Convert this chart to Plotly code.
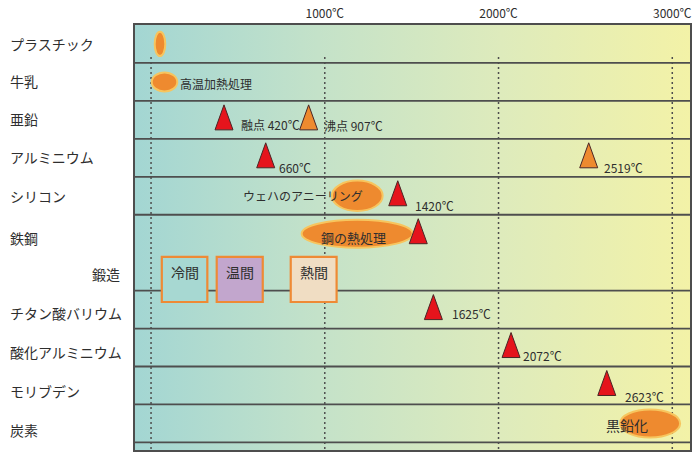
import plotly.graph_objects as go

# ---------------- data ----------------
categories = ["プラスチック", "牛乳", "亜鉛", "アルミニウム", "シリコン", "鉄鋼", "鍛造",
              "チタン酸バリウム", "酸化アルミニウム", "モリブデン", "炭素"]

# melting (融点) / boiling (沸点) points
pt_material = ["亜鉛", "亜鉛", "アルミニウム", "アルミニウム", "シリコン", "鉄鋼",
               "チタン酸バリウム", "酸化アルミニウム", "モリブデン"]
pt_temp = [420, 907, 660, 2519, 1420, 1538, 1625, 2072, 2623]
pt_kind = ["融点", "沸点", "融点", "沸点", "融点", "融点", "融点", "融点", "融点"]
pt_label = ["融点 420℃", "沸点 907℃", "660℃", "2519℃", "1420℃", "", "1625℃", "2072℃", "2623℃"]

# process temperature ranges (ellipses)
proc_material = ["プラスチック", "牛乳", "シリコン", "鉄鋼", "炭素"]
proc_name = ["", "高温加熱処理", "ウェハのアニーリング", "鋼の熱処理", "黒鉛化"]
proc_lo = [21, 4, 1041, 867, 2699]
proc_hi = [82, 151, 1333, 1506, 3045]

# forging ranges (boxes)
forge_name = ["冷間", "温間", "熱間"]
forge_lo = [62, 378, 804]
forge_hi = [324, 643, 1068]

tick_vals = [1000, 2000, 3000]
tick_text = ["1000℃", "2000℃", "3000℃"]
guide_vals = [0, 1000, 2000, 3000]

# ---------------- layout / style ----------------
W, H = 700, 457
ML, MR, MT, MB = 135, 10, 25, 7
PW = W - ML - MR
XR = [-92.3, 3102]
YMAX = 11.2
row_of = {c: i for i, c in enumerate(categories)}
label_y = [0.5, 1.48, 2.48, 3.48, 4.51, 5.61, 6.56, 7.59, 8.62, 9.64, 10.67]
row_lines = [1, 2, 3, 4, 5, 7, 8, 9, 10, 11]

FONT = "Noto Sans CJK JP"
TXT = "#2E2E2E"
ORANGE = "#EE8A2F"
RED = "#E5141C"
kind_color = {"融点": RED, "沸点": ORANGE}

proc_halfh = [0.32, 0.25, 0.40, 0.37, 0.37]
proc_text_anchor = ["left", "left", "right", "center", "center"]
proc_text_dx = [1, 1, -18, -4, -23]
proc_text_dy = [0, -2, 0, -4, -2]
proc_text_size = [12, 12, 12, 13, 14]

forge_fill = ["#A7D8D2", "#C2A6CD", "#F0DDC3"]
forge_y = (6.11, 7.30)

pt_dx = [15, 13, 11, 13, 15, 0, 17, 10, 16]
pt_dy = [-5, -6, -10, -10, -10, 0, -4, -8, -11]

fig = go.Figure()

# background gradient
fig.add_trace(go.Scatter(
    x=[XR[0], XR[1], XR[1], XR[0], XR[0]], y=[0, 0, YMAX, YMAX, 0],
    mode="lines", line=dict(width=0), fill="toself",
    fillgradient=dict(type="horizontal",
                      colorscale=[[0, "#A3D6D3"], [0.33, "#C4E2C9"],
                                  [0.66, "#DEEBBC"], [1, "#F3F2A7"]]),
    hoverinfo="skip", showlegend=False))

shapes = []
# row separators
for r in row_lines:
    shapes.append(dict(type="line", xref="paper", x0=0, x1=1, yref="y", y0=r, y1=r,
                       line=dict(color="#4E4E4E", width=1.8), layer="above"))
# dashed guide lines
for g in guide_vals:
    shapes.append(dict(type="line", xref="x", x0=g, x1=g, yref="y", y0=0.84, y1=YMAX,
                       line=dict(color="#4E4E4E", width=1.5, dash="2px,3px"), layer="above"))
# forging boxes
for i, n in enumerate(forge_name):
    shapes.append(dict(type="rect", xref="x", yref="y", x0=forge_lo[i], x1=forge_hi[i],
                       y0=forge_y[0], y1=forge_y[1], fillcolor=forge_fill[i],
                       line=dict(color="#EE8A35", width=2.2), layer="above"))
# process ellipses
for i, m in enumerate(proc_material):
    yc = row_of[m] + 0.5
    shapes.append(dict(type="circle", xref="x", yref="y", x0=proc_lo[i], x1=proc_hi[i],
                       y0=yc - proc_halfh[i], y1=yc + proc_halfh[i], fillcolor=ORANGE,
                       line=dict(color="#F7C55E", width=2), layer="above"))
# triangles (melting/boiling points)
for i, m in enumerate(pt_material):
    shapes.append(dict(type="path", xref="x", yref="y", xsizemode="pixel", ysizemode="pixel",
                       xanchor=pt_temp[i], yanchor=row_of[m] + 0.5,
                       path="M-9,-10L9,-10L0,15Z", fillcolor=kind_color[pt_kind[i]],
                       line=dict(color="#4A2626", width=1), layer="above"))

annotations = []
# row labels
for i, c in enumerate(categories):
    if c == "鍛造":
        annotations.append(dict(xref="paper", x=(122 - ML) / PW, xanchor="right",
                                yref="y", y=label_y[i], yanchor="middle", text=c,
                                showarrow=False, font=dict(family=FONT, size=14, color=TXT)))
    else:
        annotations.append(dict(xref="paper", x=(8 - ML) / PW, xanchor="left",
                                yref="y", y=label_y[i], yanchor="middle", text=c,
                                showarrow=False, font=dict(family=FONT, size=14, color=TXT)))
# point labels
for i, m in enumerate(pt_material):
    if pt_label[i]:
        annotations.append(dict(x=pt_temp[i], y=row_of[m] + 0.5, xref="x", yref="y",
                                xanchor="left", yanchor="middle", xshift=pt_dx[i], yshift=pt_dy[i],
                                text=pt_label[i], showarrow=False,
                                font=dict(family=FONT, size=12, color=TXT)))
# process labels
for i, m in enumerate(proc_material):
    if proc_name[i]:
        a = proc_text_anchor[i]
        xpos = proc_hi[i] if a in ("left", "right") else (proc_lo[i] + proc_hi[i]) / 2
        annotations.append(dict(x=xpos, y=row_of[m] + 0.5, xref="x", yref="y",
                                xanchor=a, yanchor="middle", xshift=proc_text_dx[i],
                                yshift=proc_text_dy[i], text=proc_name[i], showarrow=False,
                                font=dict(family=FONT, size=proc_text_size[i], color=TXT)))
# forging labels
for i, n in enumerate(forge_name):
    annotations.append(dict(x=(forge_lo[i] + forge_hi[i]) / 2, y=6.52, xref="x", yref="y",
                            xanchor="center", yanchor="middle", text=n, showarrow=False,
                            font=dict(family=FONT, size=14, color=TXT)))

fig.update_layout(
    width=W, height=H, margin=dict(l=ML, r=MR, t=MT, b=MB, autoexpand=False),
    paper_bgcolor="white", plot_bgcolor="white",
    showlegend=False, shapes=shapes, annotations=annotations,
    xaxis=dict(range=XR, side="top", tickvals=tick_vals, ticktext=tick_text, ticks="",
               showgrid=False, zeroline=False, showline=True, mirror=True,
               linecolor="#4E4E4E", linewidth=1.5, automargin=False,
               tickfont=dict(family=FONT, size=12, color=TXT), fixedrange=True),
    yaxis=dict(range=[YMAX, 0], showticklabels=False, ticks="", showgrid=False,
               zeroline=False, showline=True, mirror=True, linecolor="#4E4E4E",
               linewidth=1.5, fixedrange=True, automargin=False),
)

fig.write_html("out.html")
